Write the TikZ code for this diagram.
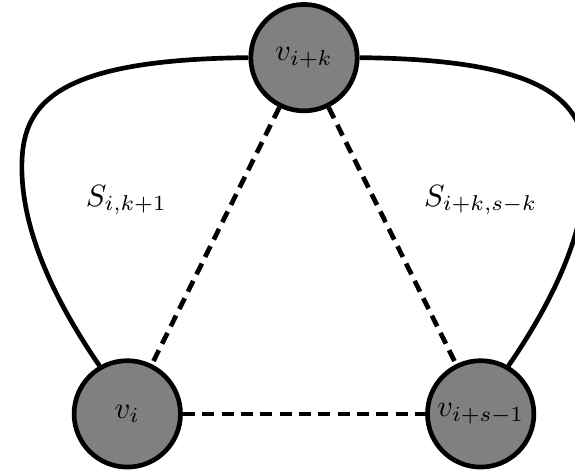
\documentclass[tikz,border=0pt]{standalone}
\usepackage{graphicx,amsmath,amssymb}
\usepackage{tikz}
\usetikzlibrary{calc}

\newcommand{\vlab}[1]{\scalebox{0.92}{$#1$}}

\begin{document}
\begin{tikzpicture}[
  vtx/.style={circle,draw,fill=gray,line width=1.4pt,minimum size=1.12cm,inner sep=0pt},
  chord/.style={line width=1.4pt,dash pattern=on 3.6pt off 2.2pt},
  arc/.style={line width=1.4pt},
]
  \useasboundingbox (0,0) rectangle (6.053,4.947);

  % Vertices
  \node[vtx] (top) at (3.20,4.34) {\makebox[0pt]{\vlab{v_{i+k}}}};
  \node[vtx] (bl) at (1.34,0.59) {\makebox[0pt]{\vlab{v_{i}}}};
  \node[vtx] (br) at (5.06,0.59) {\makebox[0pt]{\vlab{v_{i+s-1}}}};

  % Dashed chords
  \draw[chord] (top) -- (bl);
  \draw[chord] (top) -- (br);
  \draw[chord] (bl) -- (br);

  % Outer paths
  \draw[arc] (top.west) .. controls (0.55,4.32) and (0.23,3.84) .. (0.23,3.19)
    .. controls (0.23,2.42) and (0.68,1.63) .. (bl.120);
  \draw[arc] (top.east) .. controls (5.85,4.32) and (6.17,3.84) .. (6.17,3.19)
    .. controls (6.17,2.42) and (5.72,1.63) .. (br.60);

  % Labels
  \node (sleft) at (1.33,2.84) {\vlab{S_{i,k+1}}};
  \node (sright) at (5.06,2.84) {\vlab{S_{i+k,s-k}}};
\end{tikzpicture}
\end{document}
